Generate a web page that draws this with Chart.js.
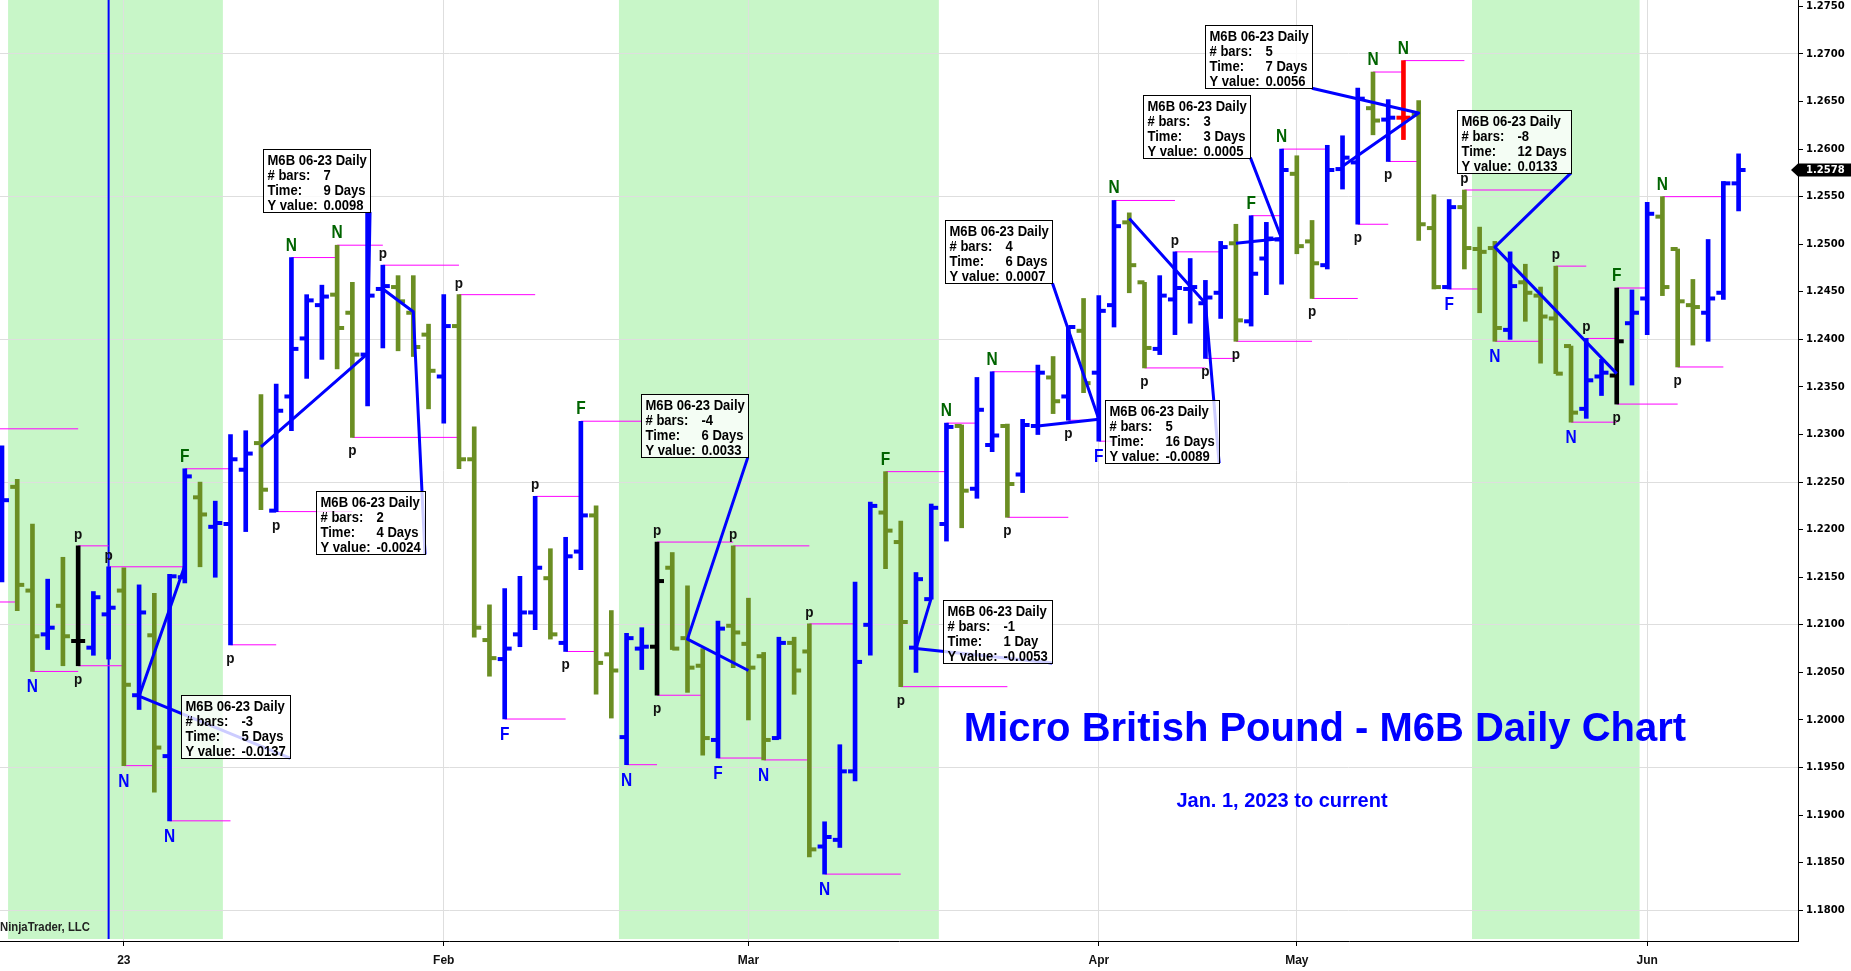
<!DOCTYPE html>
<html>
<head>
<meta charset="utf-8">
<script src="https://cdn.jsdelivr.net/npm/chart.js@4.4.1/dist/chart.umd.min.js"></script>
<style>
html,body{margin:0;padding:0;background:#fff;overflow:hidden;}
#wrap{position:relative;width:1851px;height:971px;}
</style>
</head>
<body>
<div id="wrap"><canvas id="c" width="1851" height="971"></canvas></div>
<script>
// ---------------- DATA ----------------
const opens = [1.2180,1.2245,1.2136,1.2090,1.2120,1.2083,1.2076,1.2111,1.2136,1.2026,
1.2089,1.1962,1.2150,1.2234,1.2203,1.2206,1.2263,1.2291,1.2220,1.2340,
1.2401,1.2436,1.2447,1.2428,1.2384,1.2453,1.2455,1.2428,1.2405,1.2361,
1.2414,1.2274,1.2084,1.2064,1.2090,1.2113,1.2149,1.2081,1.2177,1.2215,
1.2069,1.1982,1.2075,1.2077,1.2160,1.2086,1.2057,1.1979,1.2099,1.2080,
1.2067,1.1981,1.2081,1.2072,1.1867,1.1874,1.1946,1.2100,1.2218,1.2187,
1.2076,1.2127,1.2206,1.2309,1.2243,1.2289,1.2309,1.2258,1.2309,1.2360,
1.2340,1.2409,1.2365,1.2436,1.2523,1.2460,1.2390,1.2442,1.2453,1.2438,
1.2449,1.2501,1.2419,1.2485,1.2505,1.2574,1.2503,1.2478,1.2579,1.2586,
1.2643,1.2631,1.2633,1.2636,1.2517,1.2455,1.2539,1.2495,1.2496,1.2410,
1.2460,1.2446,1.2422,1.2393,1.2327,1.2361,1.2362,1.2417,1.2443,1.2529,
1.2495,1.2436,1.2428,1.2449,1.2564];
const highs = [1.2288,1.2253,1.2206,1.2148,1.2171,1.2183,1.2135,1.2161,1.2160,1.2142,
1.2133,1.2153,1.2264,1.2250,1.2230,1.2300,1.2304,1.2342,1.2353,1.2486,
1.2447,1.2457,1.2499,1.2460,1.2533,1.2478,1.2467,1.2467,1.2416,1.2447,
1.2447,1.2308,1.2121,1.2138,1.2151,1.2235,1.2180,1.2192,1.2314,1.2225,
1.2115,1.2091,1.2097,1.2187,1.2176,1.2141,1.2075,1.2104,1.2183,1.2128,
1.2071,1.2087,1.2087,1.2101,1.1893,1.1974,1.2145,1.2229,1.2261,1.2209,
1.2155,1.2227,1.2312,1.2310,1.2360,1.2366,1.2311,1.2316,1.2373,1.2382,
1.2413,1.2443,1.2446,1.2546,1.2533,1.2460,1.2467,1.2492,1.2485,1.2462,
1.2503,1.2521,1.2530,1.2523,1.2600,1.2593,1.2525,1.2604,1.2614,1.2664,
1.2681,1.2652,1.2693,1.2651,1.2552,1.2547,1.2557,1.2518,1.2503,1.2492,
1.2479,1.2455,1.2477,1.2393,1.2401,1.2379,1.2454,1.2452,1.2544,1.2550,
1.2495,1.2463,1.2505,1.2566,1.2595];
const lows = [1.2145,1.2115,1.2051,1.2074,1.2057,1.2057,1.2068,1.2064,1.1952,1.2011,
1.1924,1.1894,1.2144,1.2161,1.2150,1.2079,1.2198,1.2221,1.2219,1.2304,
1.2359,1.2379,1.2369,1.2297,1.2330,1.2391,1.2388,1.2382,1.2327,1.2312,
1.2264,1.2087,1.2046,1.2001,1.2077,1.2095,1.2085,1.2072,1.2158,1.2027,
1.2002,1.1953,1.2053,1.2026,1.2074,1.2029,1.1963,1.1960,1.2055,1.2000,
1.1958,1.1980,1.2027,1.1856,1.1838,1.1866,1.1936,1.2068,1.2159,1.2035,
1.2050,1.2127,1.2188,1.2202,1.2233,1.2282,1.2213,1.2239,1.2300,1.2322,
1.2315,1.2344,1.2293,1.2413,1.2449,1.2370,1.2384,1.2405,1.2417,1.2380,
1.2422,1.2398,1.2414,1.2447,1.2458,1.2490,1.2443,1.2474,1.2558,1.2521,
1.2615,1.2587,1.2610,1.2504,1.2453,1.2453,1.2474,1.2428,1.2398,1.2400,
1.2419,1.2375,1.2364,1.2313,1.2317,1.2341,1.2332,1.2352,1.2405,1.2446,
1.2371,1.2394,1.2398,1.2442,1.2535];
const closes = [1.2231,1.2142,1.2088,1.2097,1.2088,1.2083,1.2129,1.2118,1.2037,1.2113,
1.1971,1.2151,1.2256,1.2216,1.2207,1.2274,1.2280,1.2242,1.2325,1.2390,
1.2441,1.2445,1.2412,1.2384,1.2446,1.2456,1.2440,1.2392,1.2367,1.2414,
1.2274,1.2097,1.2065,1.2075,1.2113,1.2160,1.2090,1.2172,1.2215,1.2060,
1.2052,1.2086,1.2077,1.2146,1.2075,1.2055,1.1981,1.2096,1.2092,1.2055,
1.1979,1.2081,1.2052,1.1864,1.1877,1.1946,1.2061,1.2225,1.2199,1.2103,
1.2148,1.2223,1.2308,1.2241,1.2326,1.2299,1.2248,1.2310,1.2365,1.2335,
1.2413,1.2354,1.2430,1.2519,1.2478,1.2391,1.2446,1.2454,1.2455,1.2444,
1.2497,1.2420,1.2469,1.2506,1.2578,1.2498,1.2480,1.2578,1.2591,1.2653,
1.2630,1.2633,1.2633,1.2521,1.2455,1.2539,1.2496,1.2492,1.2412,1.2456,
1.2449,1.2424,1.2364,1.2323,1.2357,1.2365,1.2398,1.2428,1.2532,1.2455,
1.2440,1.2434,1.2443,1.2564,1.2578];

// x-axis tick labels (bar index where each month label sits)
const tickBars   = [8, 29, 49, 72, 85, 108];
const tickLabels = ['23', 'Feb', 'Mar', 'Apr', 'May', 'Jun'];

// y-axis tick values / labels
const yTickValues = [1.1800,1.1850,1.1900,1.1950,1.2000,1.2050,1.2100,1.2150,1.2200,1.2250,
1.2300,1.2350,1.2400,1.2450,1.2500,1.2550,1.2600,1.2650,1.2700,1.2750];
const yTickLabels = yTickValues.map(v => v.toFixed(4));

// swing markers: bar index, letter, side (H = at high, L = at low), bar where its level line ends
const markBar  = [2,5,5,7,8,11,12,15,18,19,22,23,25,30,33,35,37,38,41,43,43,47,48,50,53,54,58,59,62,65,66,70,72,73,75,77,79,81,82,84,86,89,90,91,92,95,96,98,102,103,104,106,106,109,110];
const markText = ['N','p','p','p','N','N','F','p','p','N','N','p','p','p','F','p','p','F','N','p','p','F','p','N','p','N','F','p','N','N','p','p','F','N','p','p','p','p','F','N','p','p','N','p','N','F','p','N','p','N','p','F','p','N','p'];
const markSide = ['L','H','L','H','L','L','H','L','L','H','H','L','H','H','L','H','L','H','L','H','L','L','H','L','H','L','H','L','H','H','L','L','L','H','L','H','L','L','H','H','L','L','H','L','H','L','H','L','H','L','H','H','L','H','L'];
const markEnd  = [5,7,8,12,10,15,15,18,23,22,25,30,30,35,37,38,39,42,43,48,46,50,53,53,56,59,62,66,64,68,70,72,73,77,79,80,81,86,84,87,89,91,92,93,96,97,102,101,104,106,106,108,110,113,113];

// levels that started before the first visible bar
const preLevelPrice = [1.2306, 1.2124];
const preLevelEnd   = [5, 1];

// ruler measurements
const rulerStart      = [17,25,12,49,61,68,74,81,88,106];
const rulerStartPrice = [1.2287,1.2453,1.2162,1.2052,1.2128,1.2309,1.2527,1.2501,1.2582,1.2364];
const rulerEnd        = [24,27,9,45,60,72,79,84,93,98];
const rulerEndPrice   = [1.2385,1.2429,1.2025,1.2085,1.2075,1.2316,1.2438,1.2506,1.2638,1.2497];
const rulerTextBar    = [24.16,27.77,18.91,48.96,68.94,68.96,79.9,81.95,85.99,103.0];
const rulerTextPrice  = [1.2534,1.2174,1.1960,1.2276,1.2060,1.2459,1.2270,1.2591,1.2664,1.2575];
const rulerBars       = [7,2,-3,-4,-1,4,5,3,5,-8];
const rulerDays       = [9,4,5,6,1,6,16,3,7,12];
const rulerDiff       = ['0.0098','-0.0024','-0.0137','0.0033','-0.0053','0.0007','-0.0089','0.0005','0.0056','0.0133'];

// shaded periods (bar ranges) and the marked bar
const zoneFrom = [0.4, 40.5, 96.5];
const zoneTo   = [14.5, 61.5, 107.5];
const markerLineBar = 7;

const instrument = 'M6B 06-23 Daily';
const titleText = 'Micro British Pound - M6B Daily Chart';
const subText = 'Jan. 1, 2023 to current';
const brandText = 'NinjaTrader, LLC';

// ---------------- STYLE ----------------
const UP = '#0000FF', DOWN = '#6B8E23';
const specialColor = {5:'#000000', 43:'#000000', 92:'#FF0000', 106:'#000000'};
const barColors = closes.map((c,i) => specialColor[i] || (c > opens[i] ? UP : DOWN));
const TICK_OFF = 0.23;
const NARROW = 0.87;
const ANN_FONT = 'bold 15px "Liberation Sans", Arial, sans-serif';
const LETTER_FONT = 'bold 18px "Liberation Sans", Arial, sans-serif';

// ---------------- DATASETS ----------------
const datasets = [];
datasets.push({
  type:'bar', order:4,
  data: highs.map((h,i) => ({x:i, y:[lows[i], h]})),
  backgroundColor: barColors, borderWidth:0, barThickness:4
});
datasets.push({
  type:'line', order:3, showLine:false,
  data: opens.map((o,i) => ({x:i - TICK_OFF, y:o})),
  pointStyle:'line', pointRadius:3.5, pointBorderWidth:4,
  pointBorderColor: barColors, pointBackgroundColor: barColors
});
datasets.push({
  type:'line', order:3, showLine:false,
  data: closes.map((c,i) => ({x:i + TICK_OFF, y:c})),
  pointStyle:'line', pointRadius:3.5, pointBorderWidth:4,
  pointBorderColor: barColors, pointBackgroundColor: barColors
});
// level lines
markBar.forEach((b,k) => {
  const lvl = markSide[k] === 'H' ? highs[b] : lows[b];
  datasets.push({type:'line', order:5, data:[{x:b,y:lvl},{x:markEnd[k],y:lvl}],
    borderColor:'#FF00FF', borderWidth:1, pointRadius:0, tension:0});
});
preLevelPrice.forEach((p,k) => {
  datasets.push({type:'line', order:5, data:[{x:-3,y:p},{x:preLevelEnd[k],y:p}],
    borderColor:'#FF00FF', borderWidth:1, pointRadius:0, tension:0});
});
// rulers
rulerStart.forEach((s,k) => {
  datasets.push({type:'line', order:1,
    data:[{x:s,y:rulerStartPrice[k]},{x:rulerEnd[k],y:rulerEndPrice[k]},{x:rulerTextBar[k],y:rulerTextPrice[k]}],
    borderColor:'#0000FF', borderWidth:3, pointRadius:0, tension:0, borderJoinStyle:'round'});
});

// ---------------- PLUGIN ----------------
function narrowText(ctx, txt, x, y, align, sx){
  ctx.save(); ctx.translate(x, y); ctx.scale(sx || NARROW, 1);
  ctx.textAlign = align; ctx.fillText(txt, 0, 0); ctx.restore();
}
const decor = {
  id:'decor',
  beforeDraw(chart){
    const {ctx, chartArea:a, scales:{x}} = chart;
    ctx.save();
    ctx.fillStyle = '#fff'; ctx.fillRect(0,0,chart.width,chart.height);
    ctx.fillStyle = 'rgb(200,246,200)';
    zoneFrom.forEach((f,k) => {
      const x0 = x.getPixelForValue(f), x1 = x.getPixelForValue(zoneTo[k]);
      ctx.fillRect(x0, a.top, x1 - x0, a.bottom - a.top - 2);
    });
    ctx.restore();
  },
  beforeDatasetsDraw(chart){
    const {ctx, chartArea:a, scales:{x}} = chart;
    ctx.save();
    const vx = x.getPixelForValue(markerLineBar);
    ctx.strokeStyle = '#0000FF'; ctx.lineWidth = 2;
    ctx.beginPath(); ctx.moveTo(vx, a.top); ctx.lineTo(vx, a.bottom - 2); ctx.stroke();
    // titles
    ctx.fillStyle = '#0000FF'; ctx.textAlign = 'center'; ctx.textBaseline = 'alphabetic';
    ctx.font = 'bold 40px "Liberation Sans", Arial, sans-serif';
    ctx.fillText(titleText, a.left + 1325, 741);
    ctx.font = 'bold 20px "Liberation Sans", Arial, sans-serif';
    ctx.fillText(subText, a.left + 1282, 807);
    ctx.fillStyle = '#222';
    ctx.font = 'bold 13px "Liberation Sans", Arial, sans-serif';
    narrowText(ctx, brandText, a.left, 931, 'left');
    ctx.restore();
  },
  afterDatasetsDraw(chart){
    const {ctx, scales:{x, y}} = chart;
    ctx.save();
    ctx.textBaseline = 'alphabetic';
    // swing letters
    markBar.forEach((b,k) => {
      const px = x.getPixelForValue(b);
      const t = markText[k];
      const isP = t === 'p';
      ctx.font = isP ? ANN_FONT : LETTER_FONT;
      let py;
      if (markSide[k] === 'H') {
        py = y.getPixelForValue(highs[b]) - 7;
        ctx.fillStyle = isP ? '#111' : '#006400';
      } else {
        py = y.getPixelForValue(lows[b]) + (isP ? 18 : 21);
        ctx.fillStyle = isP ? '#111' : '#0000FF';
      }
      narrowText(ctx, t, px, py, 'center', isP ? 0.9 : 0.86);
    });
    // ruler boxes
    ctx.font = ANN_FONT;
    rulerStart.forEach((s,k) => {
      const ax = x.getPixelForValue(rulerTextBar[k]);
      const ay = y.getPixelForValue(rulerTextPrice[k]);
      const dayTxt = rulerDays[k] + (rulerDays[k] === 1 ? ' Day' : ' Days');
      const vals = [String(rulerBars[k]), dayTxt, rulerDiff[k]];
      const tw = ctx.measureText(instrument).width * NARROW;
      const vw = Math.max(...vals.map(v => ctx.measureText(v).width * NARROW));
      const w = Math.round(Math.max(tw + 7, 60 + vw + 5));
      const h = 63;
      const left = Math.round(ax - w) + 0.5, top = Math.round(ay - h) + 0.5;
      ctx.fillStyle = 'rgba(255,255,255,0.8)';
      ctx.fillRect(left, top, w, h);
      ctx.strokeStyle = '#000'; ctx.lineWidth = 1;
      ctx.strokeRect(left, top, w, h);
      ctx.fillStyle = '#000';
      narrowText(ctx, instrument, left + 4, top + 15, 'left');
      narrowText(ctx, '# bars:', left + 4, top + 30, 'left');
      narrowText(ctx, 'Time:', left + 4, top + 45, 'left');
      narrowText(ctx, 'Y value:', left + 4, top + 60, 'left');
      narrowText(ctx, vals[0], left + 60, top + 30, 'left');
      narrowText(ctx, vals[1], left + 60, top + 45, 'left');
      narrowText(ctx, vals[2], left + 60, top + 60, 'left');
    });
    ctx.restore();
  },
  afterDraw(chart){
    const {ctx, chartArea:a, scales:{y}} = chart;
    const last = closes[closes.length - 1];
    const py = y.getPixelForValue(last);
    ctx.save();
    ctx.fillStyle = '#000';
    ctx.beginPath();
    ctx.moveTo(a.right - 7, py);
    ctx.lineTo(a.right, py - 6.5);
    ctx.lineTo(chart.width, py - 6.5);
    ctx.lineTo(chart.width, py + 6.5);
    ctx.lineTo(a.right, py + 6.5);
    ctx.closePath(); ctx.fill();
    ctx.fillStyle = '#fff';
    ctx.font = 'bold 10px "DejaVu Sans", sans-serif';
    ctx.textBaseline = 'middle'; ctx.textAlign = 'left';
    ctx.fillText(last.toFixed(4), a.right + 8, py + 0.5);
    ctx.restore();
  }
};

const GRID = '#DEDEDE';
new Chart(document.getElementById('c'), {
  type:'bar',
  data:{datasets},
  options:{
    responsive:false, animation:false, events:[],
    layout:{padding:0, autoPadding:false},
    plugins:{legend:{display:false}, tooltip:{enabled:false}, title:{display:false}},
    scales:{
      x:{
        type:'linear', min:-0.131, max:117.9, offset:false,
        grid:{color:GRID, lineWidth:1, tickLength:5, tickColor:'#000', offset:false},
        border:{display:true, color:'#000', width:1},
        afterBuildTicks: s => { s.ticks = tickBars.map(v => ({value:v})); },
        ticks:{callback:(v,i) => tickLabels[i], autoSkip:false, maxRotation:0,
          font:{family:'"Liberation Sans", Arial', weight:'bold', size:12}, color:'#111', padding:7},
        afterFit: s => { s.height = 30; s.paddingLeft = 0; s.paddingRight = 0; }
      },
      y:{
        type:'linear', position:'right', min:1.17677, max:1.27567,
        afterBuildTicks: s => { s.ticks = yTickValues.map(v => ({value:v})); },
        ticks:{callback:(v,i) => yTickLabels[i], autoSkip:false,
          font:{family:'"DejaVu Sans"', weight:'bold', size:10}, color:'#000', padding:3},
        grid:{
          color: c => {
            const v = c.tick ? c.tick.value : 0;
            const r = (v - 1.18) / 0.015;
            return Math.abs(r - Math.round(r)) < 1e-6 ? GRID : 'rgba(0,0,0,0)';
          },
          tickColor:'#000', tickLength:5, lineWidth:1
        },
        border:{display:true, color:'#000', width:1},
        afterFit: s => { s.width = 53; s.paddingTop = 0; s.paddingBottom = 0; }
      }
    }
  },
  plugins:[decor]
});
</script>
</body>
</html>
